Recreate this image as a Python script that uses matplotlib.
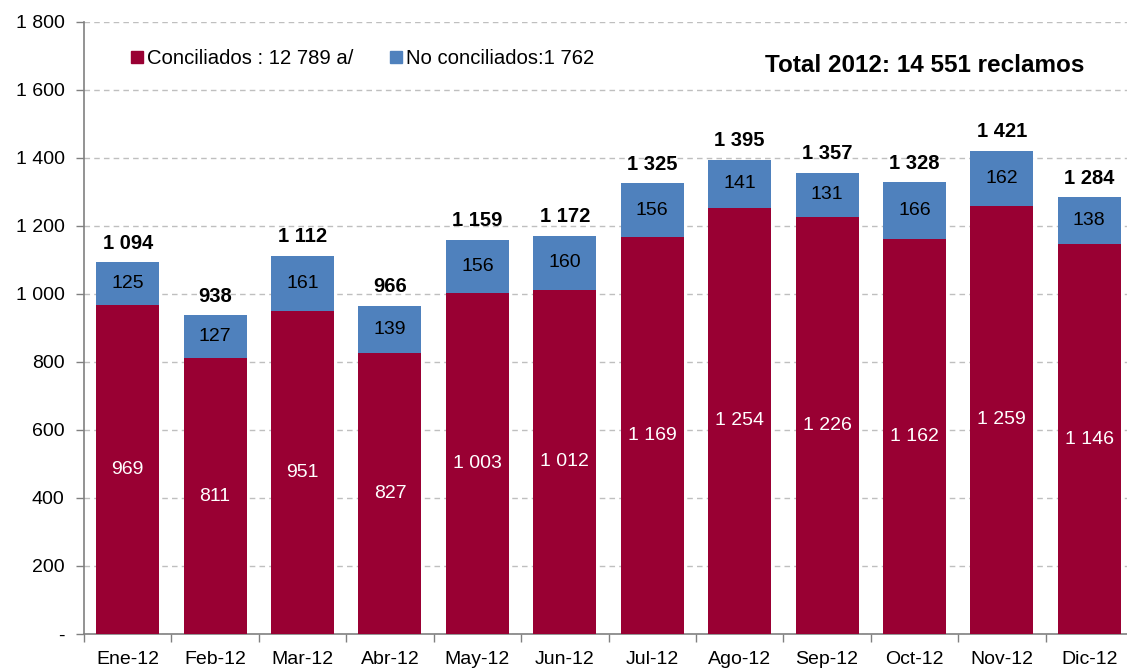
import matplotlib
matplotlib.use("Agg")
import matplotlib.pyplot as plt
from matplotlib.ticker import FuncFormatter, FixedLocator
from matplotlib.lines import Line2D

plt.rcParams['font.family'] = ['Liberation Sans', 'DejaVu Sans']

months = ["Ene-12", "Feb-12", "Mar-12", "Abr-12", "May-12", "Jun-12",
          "Jul-12", "Ago-12", "Sep-12", "Oct-12", "Nov-12", "Dic-12"]
conciliados = [969, 811, 951, 827, 1003, 1012, 1169, 1254, 1226, 1162, 1259, 1146]
no_conciliados = [125, 127, 161, 139, 156, 160, 156, 141, 131, 166, 162, 138]
legend_labels = ["Conciliados : 12 789 a/", "No conciliados:1 762"]
title_text = "Total 2012: 14 551 reclamos"

RED = "#990033"
BLUE = "#4F81BD"
FS = 14

def fmt(v):
    return f"{int(round(v)):,}".replace(",", " ")

fig = plt.figure(figsize=(11.27, 6.68), dpi=100)
ax = fig.add_axes([84/1127, 34/668, (1133-84)/1127, (634-22)/668])

x = list(range(len(months)))
w = 0.72
ax.bar(x, conciliados, width=w, color=RED, zorder=3)
ax.bar(x, no_conciliados, width=w, bottom=conciliados, color=BLUE, zorder=3)

for i in x:
    c = conciliados[i]
    n = no_conciliados[i]
    ax.text(i, c / 2, fmt(c), ha="center", va="center", color="white", fontsize=FS, zorder=4)
    ax.text(i, c + n / 2, fmt(n), ha="center", va="center", color="black", fontsize=FS, zorder=4)
    ax.text(i, c + n + 28, fmt(c + n), ha="center", va="bottom", color="black",
            fontsize=14.5, fontweight="bold", zorder=4)

ax.set_xlim(-0.5, 11.5)
ax.set_ylim(0, 1800)
ax.set_yticks(range(0, 1801, 200))
ax.yaxis.set_major_formatter(FuncFormatter(lambda v, p: "-" if v == 0 else fmt(v)))
ax.grid(axis="y", color="#BFBFBF", linestyle=(0, (4, 3)), linewidth=1, zorder=0)

ax.xaxis.set_major_locator(FixedLocator(x))
ax.set_xticklabels(months)
ax.xaxis.set_minor_locator(FixedLocator([i - 0.5 for i in range(13)]))
ax.tick_params(axis="x", which="major", length=0, labelsize=FS, pad=12)
ax.tick_params(axis="x", which="minor", length=6, color="#808080", direction="out", width=1)
ax.tick_params(axis="y", length=6, color="#808080", labelsize=FS, pad=8, width=1)

for s in ["top", "right"]:
    ax.spines[s].set_visible(False)
for s in ["left", "bottom"]:
    ax.spines[s].set_color("#808080")
    ax.spines[s].set_linewidth(1.2)

handles = [Line2D([], [], marker="s", linestyle="none", markersize=8, color=RED),
           Line2D([], [], marker="s", linestyle="none", markersize=8, color=BLUE)]
ax.legend(handles, legend_labels, loc="center left", bbox_to_anchor=(0.041, 1 - 37/612), ncol=2,
          frameon=False, fontsize=14.6, handletextpad=0.0, columnspacing=1.6, handlelength=1.0,
          borderpad=0, borderaxespad=0)

fig.text(925/1127, 1 - 65/668, title_text, ha="center", va="center",
         fontsize=17.5, fontweight="bold")

fig.savefig("out.png", dpi=100)
